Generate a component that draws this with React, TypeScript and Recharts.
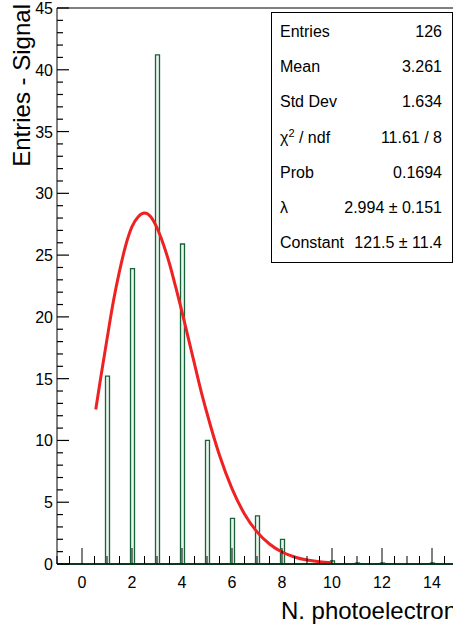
import { ComposedChart, Bar, Line, XAxis, YAxis, ReferenceLine } from 'recharts';

const FONT = '"Liberation Sans", Arial, Helvetica, sans-serif';

// histogram bins (N. photoelectrons) and their contents
const BIN_X = [1, 2, 3, 4, 5, 6, 7, 8, 10, 11, 12, 14];
const BIN_COUNT = [15.2, 23.9, 41.2, 25.9, 10.0, 3.7, 3.9, 2.0, 0.25, 0.08, 0.08, 0.08];

// fitted curve
const CURVE_X = [0.55, 0.75, 1, 1.25, 1.5, 1.75, 2, 2.25, 2.5, 2.75, 3, 3.25, 3.5, 3.75, 4, 4.25, 4.5, 4.75, 5, 5.5, 6, 6.5, 7, 7.5, 8, 8.5, 9, 9.5, 10];
const CURVE_Y = [12.5, 15.1, 18.2, 21.2, 23.7, 25.8, 27.3, 28.1, 28.4, 28.1, 27.2, 25.9, 24.3, 22.4, 20.4, 18.3, 16.2, 14.1, 12.2, 8.8, 6.1, 4.05, 2.6, 1.62, 0.97, 0.57, 0.32, 0.18, 0.1];

// stats box
const STAT_LABELS = ['Entries', 'Mean', 'Std Dev', 'chi2', 'Prob', 'λ', 'Constant'];
const STAT_VALUES = ['126', '3.261', '1.634', '11.61 / 8', '0.1694', '2.994 ± 0.151', '121.5 ± 11.4'];

const X_TICKS = Array.from({ length: 33 }, (_, i) => -1 + i * 0.5);
const Y_TICKS = Array.from({ length: 46 }, (_, i) => i);

const histData = BIN_X.map((x, i) => ({ x, n: BIN_COUNT[i] }));
const curveData = CURVE_X.map((x, i) => ({ x, fit: CURVE_Y[i] }));

// ROOT-style ticks point into the frame
function XTick(props: any) {
    const { x, y, payload } = props;
    const v = payload.value;
    const major = v % 2 === 0;
    return (
        <g>
            <line x1={x} x2={x} y1={y} y2={y - (major ? 16 : 8)} stroke="#000" strokeWidth={1} />
            {major && (
                <text x={x} y={y + 24} textAnchor="middle" fontSize={16} fontFamily={FONT} fill="#000">
                    {v}
                </text>
            )}
        </g>
    );
}

function YTick(props: any) {
    const { x, y, payload } = props;
    const v = payload.value;
    const major = v % 5 === 0;
    const px = Number(x);
    const py = Number(y);
    return (
        <g>
            <line x1={px} x2={px + (major ? 12 : 6)} y1={py} y2={py} stroke="#000" strokeWidth={1.2} />
            {major && (
                <text x={px - 4} y={py + 6} textAnchor="end" fontSize={16} fontFamily={FONT} fill="#000">
                    {v}
                </text>
            )}
        </g>
    );
}

export default function App() {
    return (
        <div style={{ position: 'absolute', left: 0, top: 0, width: 453, height: 625, overflow: 'hidden', background: '#fff' }}>
            <ComposedChart
                width={470}
                height={625}
                data={histData}
                margin={{ top: 8, right: 13, bottom: 0, left: 0 }}
            >
                <XAxis
                    dataKey="x"
                    type="number"
                    domain={[-1, 15]}
                    ticks={X_TICKS}
                    interval={0}
                    allowDataOverflow
                    height={61}
                    tickSize={0}
                    tickMargin={0}
                    tickLine={false}
                    axisLine={{ stroke: '#000' }}
                    tick={<XTick />}
                />
                <YAxis
                    type="number"
                    domain={[0, 45]}
                    ticks={Y_TICKS}
                    interval={0}
                    allowDataOverflow
                    width={57}
                    tickSize={0}
                    tickMargin={0}
                    tickLine={false}
                    axisLine={{ stroke: '#000' }}
                    tick={<YTick />}
                />
                <ReferenceLine y={45} stroke="#000" strokeWidth={1} />
                <ReferenceLine x={15} stroke="#000" strokeWidth={1} />
                <Bar
                    dataKey="n"
                    barSize={4}
                    fill="#eaf5ee"
                    stroke="#176238"
                    strokeWidth={1.3}
                    isAnimationActive={false}
                />
                <ReferenceLine y={0} stroke="#1f6d3e" strokeWidth={2} />
                <Line
                    data={curveData}
                    dataKey="fit"
                    type="monotone"
                    stroke="#ee2222"
                    strokeWidth={3}
                    dot={false}
                    activeDot={false}
                    isAnimationActive={false}
                />
            </ComposedChart>

            <svg
                width={453}
                height={625}
                style={{ position: 'absolute', left: 0, top: 0, pointerEvents: 'none' }}
                fontFamily={FONT}
            >
                {/* axis titles */}
                <text x={30} y={4} transform="rotate(-90 30 4)" textAnchor="end" fontSize={24} fill="#000">
                    Entries - Signal
                </text>
                <text x={457} y={619} textAnchor="end" fontSize={24} fill="#000">
                    N. photoelectron
                </text>

                {/* stats box */}
                <rect x={271.5} y={12.5} width={181} height={250} fill="#fff" stroke="#000" strokeWidth={1} />
                {STAT_LABELS.map((label, i) => (
                    <g key={label}>
                        <text x={280} y={37 + i * 35.2} fontSize={16} fill="#000">
                            {label === 'chi2' ? (
                                <>
                                    χ<tspan dy={-6} fontSize={11}>2</tspan>
                                    <tspan dy={6}> / ndf</tspan>
                                </>
                            ) : (
                                label
                            )}
                        </text>
                        <text x={442} y={37 + i * 35.2} fontSize={16} textAnchor="end" fill="#000">
                            {STAT_VALUES[i]}
                        </text>
                    </g>
                ))}
            </svg>
        </div>
    );
}
